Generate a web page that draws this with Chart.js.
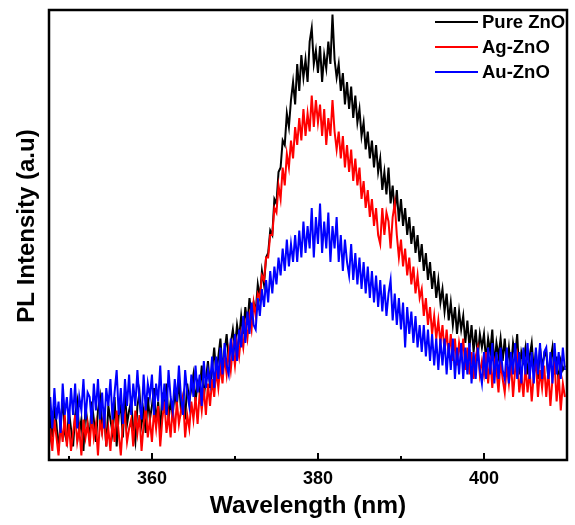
<!DOCTYPE html>
<html>
<head>
<meta charset="utf-8">
<script src="https://cdn.jsdelivr.net/npm/chart.js@4.4.1/dist/chart.umd.min.js"></script>
<style>
  html, body { margin: 0; padding: 0; background: #fff; }
  #wrap { width: 575px; height: 525px; }
</style>
</head>
<body>
<div id="wrap"><canvas id="plChart" width="575" height="525"></canvas></div>
<script>
const startNm = 347.5;
const stepNm = 0.25;
const seriesLabels = ["Pure ZnO", "Ag-ZnO", "Au-ZnO"];
const seriesColors = ["#000000", "#ff0000", "#0000ff"];
const majorTicks = [360, 380, 400];
const minorTicks = [350, 370, 390];
const yTitle = "PL Intensity (a.u)";

const pureZnO = [
  3, 10, 5, 12, 8, 2, 9, 13, 6, 4,
  11, 7, 3, 10, 13, 6, 9, 2, 12, 8,
  5, 13, 9, 4, 11, 14, 7, 10, 3, 12,
  9, 6, 14, 3, 10, 12, 5, 15, 8, 11,
  13, 7, 4, 12, 15, 8, 11, 6, 14, 9,
  12, 16, 8, 13, 6, 15, 11, 17, 9, 13,
  10, 15, 12, 18, 11, 14, 9, 17, 13, 16,
  19, 13, 17, 15, 21, 14, 18, 22, 16, 20,
  25, 19, 23, 27, 20, 24, 28, 22, 26, 29,
  25, 30, 27, 32, 28, 34, 30, 36, 32, 35,
  33, 39, 36, 42, 39, 45, 46, 51, 50, 58,
  57, 64, 65, 71, 70, 77, 74, 80, 84, 79,
  88, 82, 90, 85, 89, 84, 93, 96, 88, 91,
  86, 92, 84, 90, 87, 93, 88, 99, 89, 85,
  88, 82, 86, 79, 84, 78, 83, 76, 81, 75,
  78, 72, 75, 69, 73, 67, 71, 65, 70, 64,
  67, 60, 64, 59, 65, 57, 61, 55, 60, 53,
  58, 52, 56, 50, 54, 48, 52, 46, 50, 44,
  48, 42, 46, 40, 44, 38, 42, 36, 40, 35,
  38, 33, 37, 31, 35, 30, 34, 28, 33, 29,
  32, 26, 31, 25, 30, 24, 29, 23, 28, 25,
  28, 22, 27, 24, 29, 21, 26, 23, 27, 22,
  27, 21, 25, 20, 26, 23, 28, 19, 24, 22,
  25, 19, 23, 26, 20, 24, 18, 25, 21, 23,
  24, 18, 22, 25, 19, 23, 17, 22, 20, 21
];

const agZnO = [
  0, 7, 2, 9, 5, 1, 8, 4, 10, 3,
  8, 2, 6, 10, 4, 7, 1, 9, 5, 8,
  3, 10, 5, 8, 1, 9, 6, 11, 3, 7,
  2, 9, 4, 11, 6, 1, 8, 10, 4, 7,
  9, 3, 11, 6, 10, 2, 8, 12, 5, 9,
  4, 11, 7, 12, 3, 9, 13, 6, 10, 5,
  12, 6, 13, 8, 11, 14, 5, 10, 7, 13,
  9, 14, 8, 15, 11, 16, 10, 17, 12, 18,
  14, 20, 16, 21, 17, 23, 19, 24, 20, 25,
  21, 26, 23, 28, 25, 30, 27, 32, 29, 35,
  32, 37, 36, 41, 40, 45, 45, 50, 50, 56,
  55, 61, 58, 65, 61, 68, 65, 71, 67, 74,
  70, 76, 71, 78, 72, 77, 73, 81, 74, 80,
  75, 79, 72, 78, 70, 76, 72, 80, 73, 69,
  73, 67, 72, 65, 70, 64, 69, 62, 67, 61,
  65, 58, 62, 56, 60, 54, 58, 52, 56, 50,
  48, 56, 50, 55, 53, 47, 54, 57, 50, 45,
  49, 43, 47, 41, 45, 39, 43, 37, 41, 36,
  38, 32, 36, 30, 34, 28, 32, 27, 31, 26,
  30, 24, 29, 23, 28, 22, 27, 21, 26, 23,
  27, 20, 25, 19, 24, 18, 23, 25, 19, 22,
  19, 24, 17, 23, 16, 22, 20, 15, 22, 18,
  15, 21, 17, 22, 14, 20, 23, 15, 19, 14,
  21, 15, 20, 13, 19, 22, 14, 20, 16, 21,
  14, 20, 12, 18, 22, 13, 19, 11, 17, 14
];

const auZnO = [
  5, 14, 7, 16, 9, 13, 6, 17, 10, 14,
  8, 16, 10, 17, 7, 14, 11, 18, 9, 15,
  14, 8, 17, 11, 18, 9, 15, 7, 16, 12,
  18, 9, 15, 20, 10, 16, 8, 18, 12, 19,
  10, 17, 12, 20, 13, 9, 19, 11, 17, 14,
  19, 10, 17, 13, 21, 11, 17, 10, 20, 14,
  11, 18, 13, 21, 14, 10, 20, 15, 12, 19,
  14, 21, 15, 19, 12, 22, 16, 20, 17, 23,
  16, 23, 18, 25, 19, 26, 21, 19, 27, 22,
  28, 22, 29, 25, 32, 26, 33, 28, 35, 30,
  29, 36, 32, 38, 34, 40, 35, 42, 37, 43,
  39, 45, 41, 47, 42, 49, 43, 48, 44, 50,
  44, 51, 45, 53, 46, 52, 47, 56, 45, 54,
  48, 57, 46, 53, 47, 55, 44, 52, 47, 54,
  44, 50, 42, 49, 44, 41, 48, 40, 46, 39,
  45, 38, 44, 37, 43, 36, 42, 35, 41, 34,
  40, 33, 39, 32, 37, 40, 31, 37, 30, 36,
  29, 35, 25, 34, 28, 33, 26, 32, 25, 30,
  24, 30, 23, 29, 22, 28, 21, 27, 20, 27,
  21, 27, 19, 26, 20, 27, 18, 25, 19, 26,
  18, 25, 19, 26, 17, 24, 18, 25, 20, 17,
  24, 18, 25, 19, 26, 17, 24, 18, 25, 20,
  18, 25, 17, 24, 19, 26, 18, 24, 17, 25,
  19, 26, 18, 24, 17, 25, 19, 26, 18, 24,
  25, 18, 24, 17, 26, 19, 24, 18, 25, 20
];

const FONT = "'Liberation Sans', Arial, sans-serif";

const toPoints = (vals) => vals.map((v, i) => ({ x: startNm + i * stepNm, y: v }));

// frame, inward ticks, y title and the legend sitting inside the plot
const framePlugin = {
  id: "frame",
  afterDraw(chart) {
    const { ctx, chartArea: a, scales } = chart;
    ctx.save();
    ctx.strokeStyle = "#000";
    ctx.lineWidth = 2;
    majorTicks.concat(minorTicks).forEach(v => {
      const x = Math.round(scales.x.getPixelForValue(v));
      const len = majorTicks.includes(v) ? 7 : 4;
      ctx.beginPath();
      ctx.moveTo(x, a.bottom);
      ctx.lineTo(x, a.bottom - len);
      ctx.stroke();
    });
    ctx.lineWidth = 2.5;
    ctx.strokeRect(a.left, a.top, a.right - a.left, a.bottom - a.top);

    // y title, centred a little above the middle like the original
    ctx.save();
    ctx.translate(27, 226);
    ctx.rotate(-Math.PI / 2);
    ctx.font = "bold 24px " + FONT;
    ctx.fillStyle = "#000";
    ctx.textAlign = "center";
    ctx.textBaseline = "middle";
    ctx.fillText(yTitle, 0, 0);
    ctx.restore();

    ctx.font = "bold 18.5px " + FONT;
    ctx.textBaseline = "middle";
    ctx.textAlign = "left";
    seriesLabels.forEach((lab, i) => {
      const y = 22 + i * 25;
      ctx.strokeStyle = seriesColors[i];
      ctx.lineWidth = 2;
      ctx.beginPath();
      ctx.moveTo(435, y);
      ctx.lineTo(478, y);
      ctx.stroke();
      ctx.fillStyle = "#000";
      ctx.fillText(lab, 482, y + 1);
    });
    ctx.restore();
  }
};

const seriesData = [pureZnO, agZnO, auZnO];

new Chart(document.getElementById("plChart"), {
  type: "line",
  data: {
    datasets: seriesData.map((vals, i) => ({
      label: seriesLabels[i],
      data: toPoints(vals),
      borderColor: seriesColors[i],
      backgroundColor: seriesColors[i],
      borderWidth: 2,
      pointRadius: 0,
      tension: 0,
      order: seriesData.length - i
    }))
  },
  options: {
    responsive: false,
    animation: false,
    devicePixelRatio: 1,
    layout: { padding: { top: 10, right: 8, left: 0, bottom: 0 } },
    plugins: {
      legend: { display: false },
      tooltip: { enabled: false }
    },
    scales: {
      x: {
        type: "linear",
        min: 347.6,
        max: 410,
        grid: { display: false, drawTicks: false },
        border: { display: false },
        afterBuildTicks: (axis) => {
          axis.ticks = majorTicks.map(v => ({ value: v }));
        },
        ticks: {
          padding: 8,
          color: "#000",
          font: { family: FONT, size: 18, weight: "bold" },
          maxRotation: 0
        },
        title: {
          display: true,
          text: "Wavelength (nm)",
          color: "#000",
          font: { family: FONT, size: 24.5, weight: "bold" },
          padding: { top: 0, bottom: 4 }
        },
        afterFit: (axis) => { axis.height = 65; }
      },
      y: {
        min: 0,
        max: 100,
        grid: { display: false, drawTicks: false },
        border: { display: false },
        ticks: { display: false },
        title: { display: false },
        afterFit: (axis) => { axis.width = 49; }
      }
    }
  },
  plugins: [framePlugin]
});
</script>
</body>
</html>
